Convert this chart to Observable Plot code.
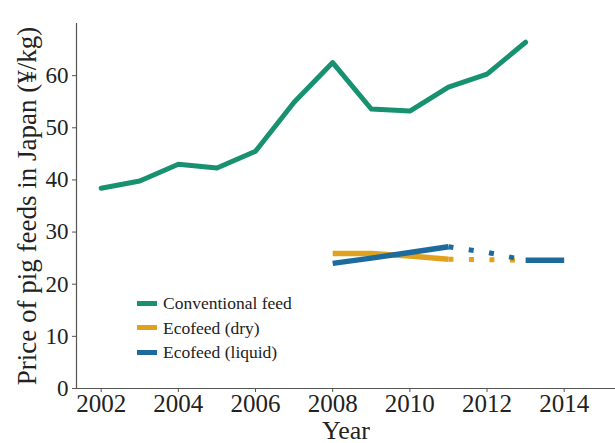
<!DOCTYPE html>
<html>
<head>
<meta charset="utf-8">
<script src="https://cdn.jsdelivr.net/npm/d3@7"></script>
<script src="https://cdn.jsdelivr.net/npm/@observablehq/plot@0.6"></script>
<style>
  html, body { margin: 0; padding: 0; background: #fff; }
  #wrap { position: relative; width: 615px; height: 443px; font-family: "Liberation Serif", "DejaVu Serif", serif; }
  #wrap svg, #wrap svg text { font-family: "Liberation Serif", "DejaVu Serif", serif !important; }
  #legend { position: absolute; left: 137px; top: 291px; font-size: 17.5px; color: #222; line-height: 24.5px; }
  #legend .row { display: flex; align-items: center; white-space: nowrap; }
  #legend .sw { width: 20px; height: 5px; margin-right: 6px; }
</style>
</head>
<body>
<div id="wrap"><div id="legend"></div></div>
<script>
const seriesNames = ["Conventional feed", "Ecofeed (dry)", "Ecofeed (liquid)"];
const seriesColors = ["#17916f", "#e0a21e", "#1d6a9d"];

const convYears = [2002, 2003, 2004, 2005, 2006, 2007, 2008, 2009, 2010, 2011, 2012, 2013];
const convValues = [38.4, 39.8, 43.0, 42.3, 45.5, 54.9, 62.5, 53.6, 53.2, 57.8, 60.3, 66.4];

const dryYears = [2008, 2009, 2010, 2011];
const dryValues = [25.9, 25.9, 25.4, 24.8];
const dryDashYears = [2011, 2012, 2013];
const dryDashValues = [24.8, 24.7, 24.6];

const liqYears = [2008, 2009, 2010, 2011];
const liqValues = [24.0, 25.0, 26.1, 27.2];
const liqDashYears = [2011, 2012, 2013];
const liqDashValues = [27.2, 26.1, 24.6];
const liqLateYears = [2013, 2014];
const liqLateValues = [24.6, 24.6];

const xTicks = [2002, 2004, 2006, 2008, 2010, 2012, 2014];
const yTicks = [0, 10, 20, 30, 40, 50, 60];
const xDomain = [2001.36, 2015.33];
const yDomain = [0, 70];

const rows = (ys, vs, s) => ys.map((y, i) => ({year: y, value: vs[i], series: s}));
const conv = rows(convYears, convValues, seriesNames[0]);
const dry = rows(dryYears, dryValues, seriesNames[1]);
const dryDash = rows(dryDashYears, dryDashValues, seriesNames[1]);
const liq = rows(liqYears, liqValues, seriesNames[2]);
const liqDash = rows(liqDashYears, liqDashValues, seriesNames[2]);
const liqLate = rows(liqLateYears, liqLateValues, seriesNames[2]);

const serif = "'Liberation Serif', 'DejaVu Serif', serif";
const dash = "5,15.5";
const chart = Plot.plot({
  width: 615,
  height: 443,
  marginLeft: 76,
  marginRight: 0,
  marginTop: 23,
  marginBottom: 55,
  style: {fontFamily: serif, color: "#222", background: "transparent", overflow: "visible"},
  x: {domain: xDomain},
  y: {domain: yDomain},
  color: {domain: seriesNames, range: seriesColors},
  marks: [
    Plot.axisX({ticks: xTicks, tickFormat: d => String(d), tickSize: 4, tickPadding: 2, fontSize: 25, fontFamily: serif, stroke: "#555",
      label: "Year", labelAnchor: "center", labelOffset: 50, labelArrow: "none"}),
    Plot.axisY({ticks: yTicks, tickSize: 4, tickPadding: 4, fontSize: 23, fontFamily: serif, stroke: "#555",
      label: "Price of pig feeds in Japan (¥/kg)", labelAnchor: "center", labelOffset: 60, labelArrow: "none"}),
    Plot.ruleY([yDomain[0]], {stroke: "#555", strokeWidth: 1.2}),
    Plot.ruleX([xDomain[0]], {stroke: "#555", strokeWidth: 1.2}),
    Plot.line(dryDash, {x: "year", y: "value", stroke: "series", strokeWidth: 5, strokeDasharray: dash, strokeLinecap: "butt"}),
    Plot.line(liqDash, {x: "year", y: "value", stroke: "series", strokeWidth: 5, strokeDasharray: dash, strokeLinecap: "butt"}),
    Plot.line(dry, {x: "year", y: "value", stroke: "series", strokeWidth: 5.5, strokeLinecap: "butt"}),
    Plot.line(liq, {x: "year", y: "value", stroke: "series", strokeWidth: 5.5, strokeLinecap: "butt"}),
    Plot.line(liqLate, {x: "year", y: "value", stroke: "series", strokeWidth: 5.5, strokeLinecap: "butt"}),
    Plot.line(conv, {x: "year", y: "value", stroke: "series", strokeWidth: 5})
  ]
});
const wrap = document.getElementById("wrap");
wrap.insertBefore(chart, wrap.firstChild);
chart.querySelectorAll("g[aria-label='x-axis label'] text").forEach(t => t.setAttribute("font-size", 26));
chart.querySelectorAll("g[aria-label='y-axis label'] text").forEach(t => t.setAttribute("font-size", 27));

const legend = document.getElementById("legend");
seriesNames.forEach((n, i) => {
  const r = document.createElement("div");
  r.className = "row";
  r.innerHTML = `<span class="sw" style="background:${seriesColors[i]}"></span><span>${n}</span>`;
  legend.appendChild(r);
});
</script>
</body>
</html>
